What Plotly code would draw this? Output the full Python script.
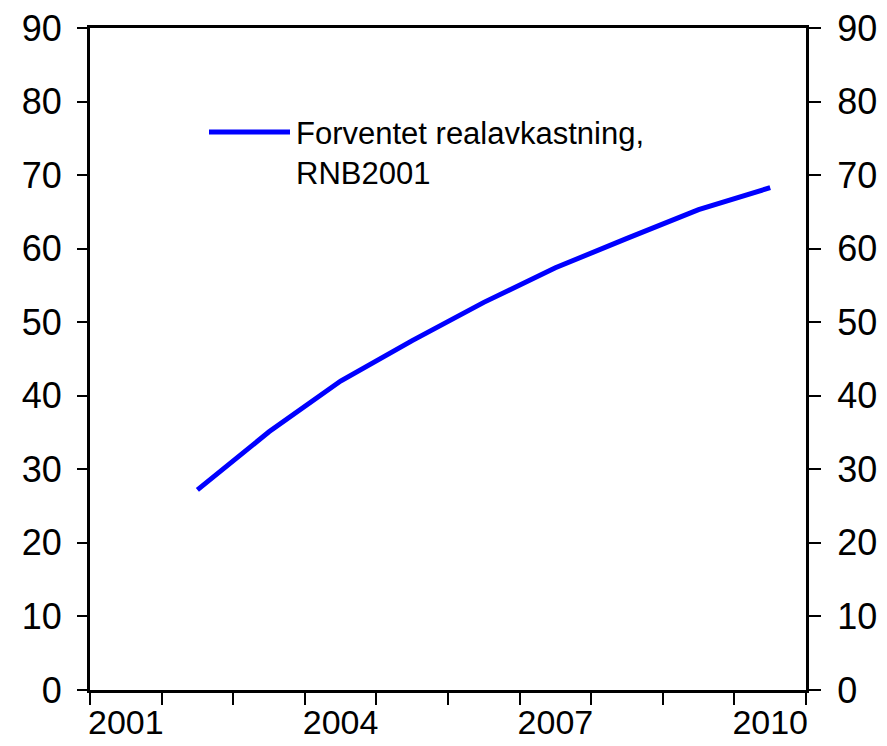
import plotly.graph_objects as go

years = [2002, 2003, 2004, 2005, 2006, 2007, 2008, 2009, 2010]
values = [27.2, 35.1, 42.0, 47.5, 52.7, 57.4, 61.4, 65.3, 68.3]
series_name = "Forventet realavkastning,<br>RNB2001"
x_labels = [2001, 2004, 2007, 2010]
y_ticks = list(range(0, 91, 10))

FONT = "Liberation Sans, Arial, sans-serif"
BLUE = "#0000FF"
TICK_SIZE = 36

fig = go.Figure()
fig.add_trace(go.Scatter(x=years, y=values, mode="lines",
                         line=dict(color=BLUE, width=5), showlegend=False))
fig.add_trace(go.Scatter(x=years, y=values, mode="lines", yaxis="y2",
                         line=dict(color=BLUE, width=0), showlegend=False,
                         hoverinfo="skip", opacity=0))

fig.update_layout(
    width=887, height=746,
    margin=dict(l=90, r=81, t=28, b=56, autoexpand=False),
    plot_bgcolor="white", paper_bgcolor="white",
    font=dict(family=FONT, color="black", size=30),
    xaxis=dict(range=[2000.5, 2010.5], tickvals=x_labels, ticks="",
               showline=True, linecolor="black", linewidth=3, mirror=True,
               showgrid=False, zeroline=False, tickfont=dict(size=34),
               ticklabelstandoff=0, automargin=False,
               minor=dict(tickmode="linear", tick0=2000.5, dtick=1, ticks="outside",
                          ticklen=12, tickwidth=2, tickcolor="black", showgrid=False)),
    yaxis=dict(range=[0, 90], tickvals=y_ticks, ticks="outside", ticklen=10,
               tickwidth=2, tickcolor="black", showline=True, linecolor="black",
               linewidth=3, showgrid=False, zeroline=False, automargin=False,
               tickfont=dict(size=TICK_SIZE), ticklabelstandoff=8),
    yaxis2=dict(range=[0, 90], tickvals=y_ticks, ticks="outside", ticklen=12,
                tickwidth=2, tickcolor="black", showline=True, linecolor="black",
                linewidth=3, showgrid=False, zeroline=False, overlaying="y",
                side="right", tickfont=dict(size=TICK_SIZE), ticklabelstandoff=9,
                automargin=False),
)

# legend drawn manually (long sample line as in reference)
fig.add_shape(type="line", xref="paper", yref="paper",
              x0=(209 - 90) / 716, x1=(290 - 90) / 716,
              y0=(690 - 132) / 662, y1=(690 - 132) / 662,
              line=dict(color=BLUE, width=5))
fig.add_annotation(xref="paper", yref="paper", x=(294 - 90) / 716, y=(690 - 114) / 662,
                   xanchor="left", yanchor="top", align="left", showarrow=False,
                   text=series_name, font=dict(size=31, family=FONT))

fig.write_html("out.html", config={"displayModeBar": False},
               post_script="document.body.style.margin='0';")
